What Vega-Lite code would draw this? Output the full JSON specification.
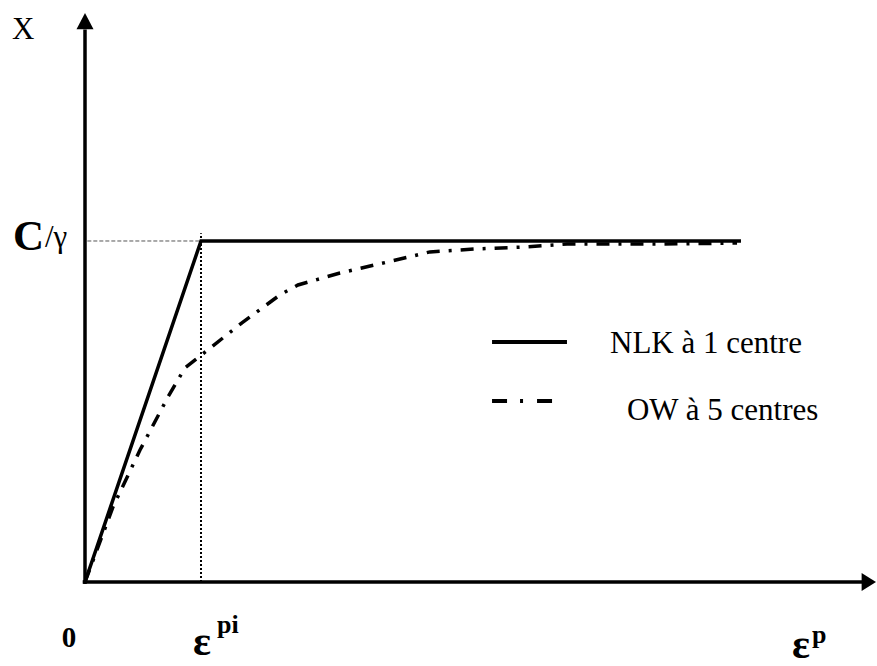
{
  "$schema": "https://vega.github.io/schema/vega-lite/v6.json",
  "width": 791,
  "height": 569,
  "autosize": {"type": "none"},
  "padding": {"left": 85, "top": 13, "right": 1, "bottom": 84},
  "background": "white",
  "config": {"view": {"stroke": null}},
  "datasets": {
    "nlk": [
      {"x": 0, "y": 0},
      {"x": 1, "y": 1},
      {"x": 5.655, "y": 1}
    ],
    "ow": [
      {"x": 0, "y": 0},
      {"x": 0.241, "y": 0.22},
      {"x": 0.474, "y": 0.387},
      {"x": 0.716, "y": 0.543},
      {"x": 0.862, "y": 0.628},
      {"x": 1.034, "y": 0.674},
      {"x": 1.353, "y": 0.76},
      {"x": 1.681, "y": 0.842},
      {"x": 1.836, "y": 0.871},
      {"x": 2.198, "y": 0.906},
      {"x": 2.603, "y": 0.938},
      {"x": 2.974, "y": 0.968},
      {"x": 3.379, "y": 0.977},
      {"x": 3.776, "y": 0.982},
      {"x": 4.155, "y": 0.991},
      {"x": 4.957, "y": 0.991},
      {"x": 5.621, "y": 0.994}
    ],
    "axes": [
      {"x": 0, "y": -0.006, "x2": 0, "y2": 1.62},
      {"x": -0.02, "y": 0, "x2": 6.75, "y2": 0}
    ],
    "upArrow": [{"x": 0, "y": 1.6686}],
    "rightArrow": [{"x": 6.819, "y": 0}],
    "guideV": [{"x": 1, "y": 0, "x2": 1, "y2": 1.023}],
    "guideH": [{"x": 0.02, "y": 1, "x2": 1, "y2": 1}],
    "legSolid": [{"x": 3.509, "y": 0.704, "x2": 4.155, "y2": 0.704}],
    "legDash": [{"x": 3.509, "y": 0.531, "x2": 4.034, "y2": 0.531}],
    "labelsNormal": [
      {"x": -0.629, "y": 1.592, "label": "X"},
      {"x": 4.526, "y": 0.6716, "label": "NLK à 1 centre"},
      {"x": 4.672, "y": 0.475, "label": "OW à 5 centres"}
    ],
    "labelC": [{"x": -0.621, "y": 0.974, "label": "C"}],
    "labelGamma": [{"x": -0.345, "y": 0.982, "label": "/γ"}],
    "labelZero": [{"x": -0.138, "y": -0.191, "label": "0"}],
    "labelEps": [
      {"x": 0.931, "y": -0.214, "label": "ε"},
      {"x": 6.095, "y": -0.223, "label": "ε"}
    ],
    "labelSup": [
      {"x": 1.138, "y": -0.15, "label": "pi"},
      {"x": 6.267, "y": -0.179, "label": "p"}
    ]
  },
  "encoding": {
    "x": {"field": "x", "type": "quantitative", "scale": {"domain": [0, 6.819], "nice": false, "zero": false}, "axis": null},
    "y": {"field": "y", "type": "quantitative", "scale": {"domain": [0, 1.6686], "nice": false, "zero": false}, "axis": null}
  },
  "layer": [
    {
      "data": {"name": "guideH"},
      "mark": {"type": "rule", "color": "#555555", "strokeWidth": 1, "strokeDash": [4, 2]},
      "encoding": {"x2": {"field": "x2"}, "y2": {"field": "y2"}}
    },
    {
      "data": {"name": "guideV"},
      "mark": {"type": "rule", "color": "black", "strokeWidth": 2, "strokeDash": [2, 2]},
      "encoding": {"x2": {"field": "x2"}, "y2": {"field": "y2"}}
    },
    {
      "data": {"name": "axes"},
      "mark": {"type": "rule", "color": "black", "strokeWidth": 3.5},
      "encoding": {"x2": {"field": "x2"}, "y2": {"field": "y2"}}
    },
    {
      "data": {"name": "upArrow"},
      "mark": {"type": "point", "shape": "M0,0L-1,1.9L1,1.9Z", "size": 289, "filled": true, "color": "black", "opacity": 1, "strokeWidth": 0}
    },
    {
      "data": {"name": "rightArrow"},
      "mark": {"type": "point", "shape": "M0,0L-1.6,-1L-1.6,1Z", "size": 324, "filled": true, "color": "black", "opacity": 1, "strokeWidth": 0}
    },
    {
      "data": {"name": "ow"},
      "mark": {"type": "line", "color": "black", "strokeWidth": 3.5, "strokeDash": [13, 9, 3, 9], "strokeCap": "butt"}
    },
    {
      "data": {"name": "nlk"},
      "mark": {"type": "line", "color": "black", "strokeWidth": 3.5}
    },
    {
      "data": {"name": "legSolid"},
      "mark": {"type": "rule", "color": "black", "strokeWidth": 4},
      "encoding": {"x2": {"field": "x2"}, "y2": {"field": "y2"}}
    },
    {
      "data": {"name": "legDash"},
      "mark": {"type": "rule", "color": "black", "strokeWidth": 4, "strokeDash": [15, 13, 3, 14]},
      "encoding": {"x2": {"field": "x2"}, "y2": {"field": "y2"}}
    },
    {
      "data": {"name": "labelsNormal"},
      "mark": {"type": "text", "font": "Liberation Serif", "fontSize": 31, "align": "left", "baseline": "alphabetic"},
      "encoding": {"text": {"field": "label"}}
    },
    {
      "data": {"name": "labelC"},
      "mark": {"type": "text", "font": "Liberation Serif", "fontSize": 43, "fontWeight": "bold", "align": "left", "baseline": "alphabetic"},
      "encoding": {"text": {"field": "label"}}
    },
    {
      "data": {"name": "labelGamma"},
      "mark": {"type": "text", "font": "Liberation Serif", "fontSize": 31, "align": "left", "baseline": "alphabetic"},
      "encoding": {"text": {"field": "label"}}
    },
    {
      "data": {"name": "labelZero"},
      "mark": {"type": "text", "font": "Liberation Serif", "fontSize": 29, "fontWeight": "bold", "align": "center", "baseline": "alphabetic"},
      "encoding": {"text": {"field": "label"}}
    },
    {
      "data": {"name": "labelEps"},
      "mark": {"type": "text", "font": "Liberation Serif", "fontSize": 42, "fontWeight": "bold", "align": "left", "baseline": "alphabetic"},
      "encoding": {"text": {"field": "label"}}
    },
    {
      "data": {"name": "labelSup"},
      "mark": {"type": "text", "font": "Liberation Serif", "fontSize": 26, "fontWeight": "bold", "align": "left", "baseline": "alphabetic"},
      "encoding": {"text": {"field": "label"}}
    }
  ]
}
